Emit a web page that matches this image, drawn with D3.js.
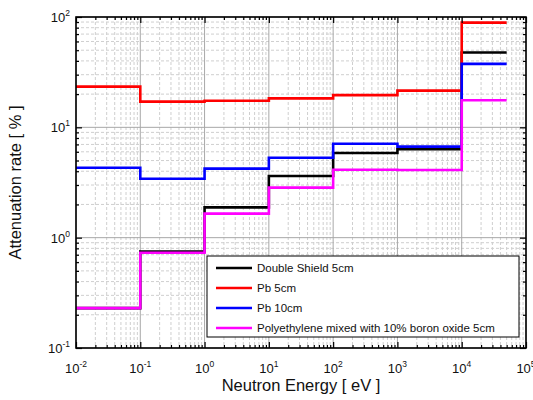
<!DOCTYPE html>
<html><head><meta charset="utf-8">
<script src="https://cdn.jsdelivr.net/npm/d3@7"></script>
<style>body{margin:0;background:#fff} svg{display:block;font-family:"Liberation Sans",Arial,sans-serif}</style>
</head><body><svg id="c" width="533" height="400"></svg>
<script>
const binEdges = [0.01, 0.1, 1, 10, 100, 1000, 10000, 50000];
const seriesNames = ["Double Shield 5cm", "Pb 5cm", "Pb 10cm", "Polyethylene mixed with 10% boron oxide 5cm"];
const doubleShield = [0.23, 0.75, 1.88, 3.62, 5.85, 6.33, 47.7];
const pb5 = [23.4, 17.1, 17.4, 18.3, 19.6, 21.5, 89];
const pb10 = [4.3, 3.42, 4.22, 5.3, 7.1, 6.68, 37.6];
const polyBoron = [0.23, 0.73, 1.65, 2.84, 4.13, 4.11, 17.6];
const seriesColors = ["#000000", "#ff0000", "#0000ff", "#ff00ff"];
const xTickExps = [-2, -1, 0, 1, 2, 3, 4, 5];
const yTickExps = [-1, 0, 1, 2];
const xLabel = "Neutron Energy [ eV ]";
const yLabel = "Attenuation rate [ % ]";

const seriesValues = [doubleShield, pb5, pb10, polyBoron];
const svg = d3.select("#c");
const L = 76, R = 526, T = 17, B = 348;
const x = d3.scaleLog().domain([1e-2, 1e5]).range([L, R]);
const y = d3.scaleLog().domain([0.1, 100]).range([B, T]);

const majorX = xTickExps.map(e => Math.pow(10, e));
const majorY = yTickExps.map(e => Math.pow(10, e));
const minorX = [], minorY = [];
xTickExps.slice(0, -1).forEach(e => { for (let k = 2; k <= 9; k++) minorX.push(k * Math.pow(10, e)); });
yTickExps.slice(0, -1).forEach(e => { for (let k = 2; k <= 9; k++) minorY.push(k * Math.pow(10, e)); });

// grid
const g = svg.append("g");
g.selectAll(".mx").data(minorX).join("line")
  .attr("x1", d => x(d)).attr("x2", d => x(d)).attr("y1", T).attr("y2", B)
  .attr("stroke", "#cfcfcf").attr("stroke-dasharray", "3,2").attr("stroke-width", 1);
g.selectAll(".my").data(minorY).join("line")
  .attr("y1", d => y(d)).attr("y2", d => y(d)).attr("x1", L).attr("x2", R)
  .attr("stroke", "#cfcfcf").attr("stroke-dasharray", "3,2").attr("stroke-width", 1);
g.selectAll(".Mx").data(majorX).join("line")
  .attr("x1", d => x(d)).attr("x2", d => x(d)).attr("y1", T).attr("y2", B)
  .attr("stroke", "#a8a8a8").attr("stroke-width", 1);
g.selectAll(".My").data(majorY).join("line")
  .attr("y1", d => y(d)).attr("y2", d => y(d)).attr("x1", L).attr("x2", R)
  .attr("stroke", "#a8a8a8").attr("stroke-width", 1);

// series
const line = d3.line().x(d => x(d[0])).y(d => y(d[1])).curve(d3.curveStepAfter);
seriesValues.forEach((vals, i) => {
  const pts = vals.map((v, j) => [binEdges[j], v]);
  pts.push([binEdges[binEdges.length - 1], vals[vals.length - 1]]);
  svg.append("path").datum(pts).attr("d", line)
    .attr("fill", "none").attr("stroke", seriesColors[i]).attr("stroke-width", 2.6);
});

// axes ticks (inward)
function addAxis(axisFn, scale, vals, size, tr) {
  const a = svg.append("g").attr("transform", tr)
    .call(axisFn(scale).tickValues(vals).tickSize(size).tickFormat(""));
  a.select(".domain").remove();
  a.selectAll("line").attr("stroke", "#000").attr("stroke-width", 1.2);
}
addAxis(d3.axisBottom, x, majorX, -6, `translate(0,${B})`);
addAxis(d3.axisBottom, x, minorX, -3, `translate(0,${B})`);
addAxis(d3.axisTop, x, majorX, -6, `translate(0,${T})`);
addAxis(d3.axisTop, x, minorX, -3, `translate(0,${T})`);
addAxis(d3.axisLeft, y, majorY, -6, `translate(${L},0)`);
addAxis(d3.axisLeft, y, minorY, -3, `translate(${L},0)`);
addAxis(d3.axisRight, y, majorY, -6, `translate(${R},0)`);
addAxis(d3.axisRight, y, minorY, -3, `translate(${R},0)`);

svg.append("rect").attr("x", L).attr("y", T).attr("width", R - L).attr("height", B - T)
  .attr("fill", "none").attr("stroke", "#000").attr("stroke-width", 1.6);

// tick labels
xTickExps.forEach(e => {
  const t = svg.append("text").attr("x", x(Math.pow(10, e))).attr("y", 373)
    .attr("text-anchor", "middle").attr("font-size", 13).attr("fill", "#111");
  t.append("tspan").text("10");
  t.append("tspan").attr("dy", -6).attr("font-size", 8.5).text(e);
});
yTickExps.forEach(e => {
  const t = svg.append("text").attr("x", 70).attr("y", y(Math.pow(10, e)) + 5)
    .attr("text-anchor", "end").attr("font-size", 13).attr("fill", "#111");
  t.append("tspan").text("10");
  t.append("tspan").attr("dy", -6).attr("font-size", 8.5).text(e);
});

// axis labels
svg.append("text").attr("x", (L + R) / 2).attr("y", 391).attr("text-anchor", "middle")
  .attr("font-size", 16.5).attr("fill", "#111").text(xLabel);
svg.append("text").attr("transform", `translate(21,${(T + B) / 2}) rotate(-90)`)
  .attr("text-anchor", "middle").attr("font-size", 16.5).attr("fill", "#111").text(yLabel);

// legend
const lg = svg.append("g");
lg.append("rect").attr("x", 207).attr("y", 256).attr("width", 312).attr("height", 81)
  .attr("fill", "#fff").attr("stroke", "#000").attr("stroke-width", 1);
seriesNames.forEach((n, i) => {
  const yy = 268 + i * 20;
  lg.append("line").attr("x1", 216).attr("x2", 252).attr("y1", yy).attr("y2", yy)
    .attr("stroke", seriesColors[i]).attr("stroke-width", 2.6);
  lg.append("text").attr("x", 257).attr("y", yy + 4).attr("font-size", 11.5)
    .attr("fill", "#111").text(n);
});
</script></body></html>
